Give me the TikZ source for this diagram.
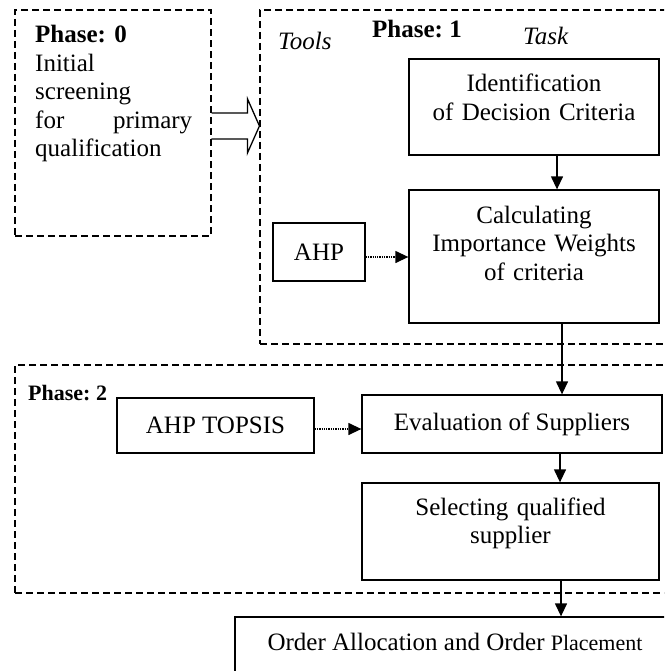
\documentclass[tikz,border=0pt]{standalone}
\usepackage{fontspec}
\setmainfont{Liberation Serif}
\usetikzlibrary{arrows.meta,calc}
\frenchspacing
\begin{document}
\begin{tikzpicture}[x=1pt,y=-1pt,
  frame/.style={draw, dash pattern=on 7pt off 4pt, line width=1.1pt, inner sep=0pt},
  box/.style={draw, line width=1.3pt, inner sep=0pt, font=\fontsize{25}{28.5}\selectfont},
  txt/.style={inner sep=0pt, font=\fontsize{25}{28.5}\selectfont},
  arr/.style={line width=1.3pt, -{Triangle[length=13pt,width=12pt]}},
  dotarr/.style={line width=1.3pt, densely dotted, -{Triangle[length=13pt,width=12pt]}}]
\useasboundingbox (0,0) rectangle (664,671);
\clip (0,0) rectangle (664,671);
% phase frames
\node[frame, minimum width=196pt, minimum height=226pt] (p0) at (113,123) {};
\node[frame, minimum width=460pt, minimum height=334pt] (p1) at (490,177) {};
\node[frame, minimum width=705pt, minimum height=228pt] (p2) at (367.5,479) {};
% phase 0 text
\node[txt, anchor=base west, text width=157pt, align=left] (t0) at (35,43)
  {\textbf{Phase: 0}\\Initial\\screening\\for\hfill primary\\qualification};
% phase 1 labels
\node[txt, anchor=base west] (tools) at (278,50) {\textit{Tools}};
\node[txt, anchor=base west] (ph1) at (372,38) {\textbf{Phase: 1}};
\node[txt, anchor=base west] (task) at (523,45) {\textit{Task}};
% phase 2 label
\node[inner sep=0pt, font=\fontsize{22}{26}\selectfont, anchor=base west] (ph2) at (28,400) {\textbf{Phase: 2}};
% boxes
\node[box, minimum width=250pt, minimum height=96pt] (id) at (534,107) {};
\node[txt, anchor=base, text width=250pt, align=center] (idt) at (534,92) {Identification\\of Decision Criteria};
\node[box, minimum width=250pt, minimum height=133pt] (calc) at (534,256.5) {};
\node[txt, anchor=base, text width=250pt, align=center] (calct) at (534,223) {Calculating\\Importance Weights\\of criteria};
\node[box, minimum width=92pt, minimum height=58pt] (ahp) at (319,252) {AHP};
\node[box, minimum width=197pt, minimum height=55pt] (topsis) at (215.5,425.5) {AHP TOPSIS};
\node[box, minimum width=300pt, minimum height=58pt] (eval) at (512,424) {Evaluation of Suppliers};
\node[box, minimum width=297pt, minimum height=97pt] (sel) at (510.5,531.5) {};
\node[txt, anchor=base, text width=297pt, align=center] (selt) at (510.5,515) {Selecting qualified\\supplier};
\node[box, minimum width=485pt, minimum height=83pt] (order) at (477.5,658.5) {};
\node[txt, anchor=base] (ordert) at (455,650) {Order Allocation and Order {\fontsize{22}{26}\selectfont Placement}};
% block arrow phase 0 -> phase 1
\coordinate (ba) at (p0.east |- 0,126);
\draw[line width=1.3pt] ($(ba)+(0,-13)$) -- ++(36,0) -- ++(0,-14) -- (ba -| p1.west) -- ++(-12,27) -- ++(0,-14) -- ++(-36,0);
% connectors
\coordinate (c0) at ($(id.south)+(23,0)$);
\draw[arr] (c0) -- (c0 |- calc.north);
\draw[dotarr] ($(ahp.east)+(0,5)$) -- ($(ahp.east -| calc.west)+(0,5)$);
\coordinate (c1) at ($(calc.south)+(28,0)$);
\draw[arr] (c1) -- (c1 |- eval.north);
\draw[dotarr] ($(topsis.east)+(0,3.5)$) -- ($(topsis.east -| eval.west)+(0,3.5)$);
\coordinate (c2) at ($(eval.south)+(48,0)$);
\draw[arr] (c2) -- (c2 |- sel.north);
\coordinate (c3) at ($(sel.south)+(50.5,0)$);
\draw[arr] (c3) -- (c3 |- order.north);
\end{tikzpicture}
\end{document}
